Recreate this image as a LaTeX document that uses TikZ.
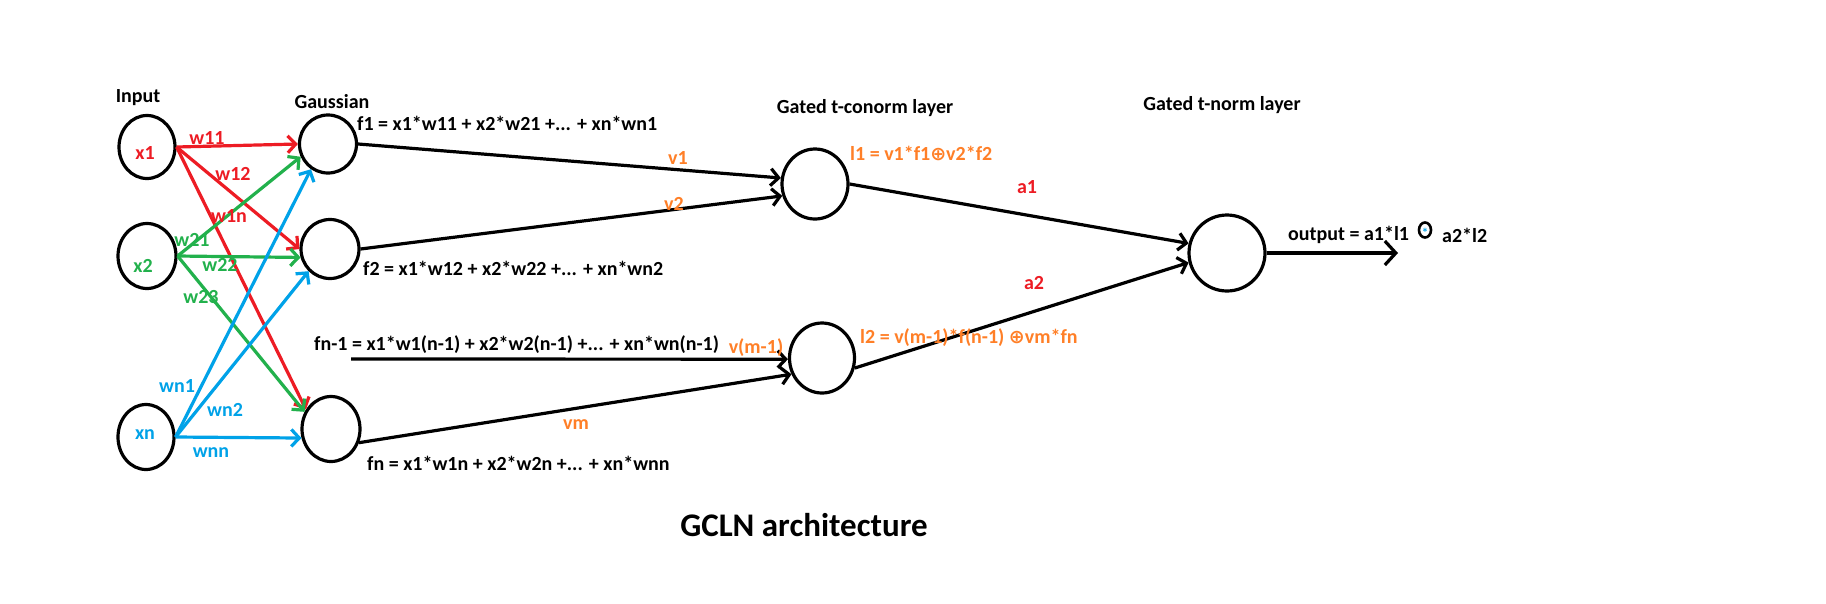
\documentclass[tikz,border=0pt]{standalone}
\usepackage{fontspec}
\setmainfont{Carlito}
\newfontfamily\dejavu{DejaVu Sans}
\usetikzlibrary{arrows.meta,shapes.geometric}
\definecolor{pred}{RGB}{237,28,36}
\definecolor{pgreen}{RGB}{34,177,76}
\definecolor{pblue}{RGB}{0,162,232}
\definecolor{porange}{RGB}{255,127,39}
\newcommand{\circplus}{{\dejavu\bfseries\fontsize{19}{19}\selectfont ⊕}}
\begin{document}
\begin{tikzpicture}[x=1pt,y=-1pt,
  neuron/.style={draw,ellipse,line width=3.2pt,inner sep=0pt},
  txt/.style={font=\fontsize{20}{24}\selectfont\bfseries,inner sep=0pt},
  wire/.style={line width=3.2pt,-{Straight Barb[length=8pt,width=17pt]}},
  plain/.style={line width=3.2pt}]
\useasboundingbox[fill=white] (0,0) rectangle (1826,603);
% input neurons
\node[neuron,minimum width=56pt,minimum height=63pt] (x1) at (147,147) {};
\node[neuron,minimum width=58pt,minimum height=65pt] (x2) at (147,256) {};
\node[neuron,minimum width=56pt,minimum height=65pt] (xn) at (146,437) {};
\node[txt,text=pred] (tx1) at (145,153) {x1};
\node[txt,text=pgreen] (tx2) at (143,266) {x2};
\node[txt,text=pblue] (txn) at (145,435) {xn};
% gaussian neurons
\node[neuron,minimum width=57pt,minimum height=58pt] (g1) at (328,144) {};
\node[neuron,minimum width=58pt,minimum height=59pt] (g2) at (330,249) {};
\node[neuron,minimum width=58pt,minimum height=65pt] (gn) at (331,429) {};
% conorm neurons
\node[neuron,minimum width=66pt,minimum height=70pt] (c1) at (815,184) {};
\node[neuron,minimum width=65pt,minimum height=70pt] (c2) at (822,358) {};
% norm neuron
\node[neuron,minimum width=76pt,minimum height=76pt] (t) at (1227,253) {};
% headers
\node[txt] (hin) at (138,98) {Input};
\node[txt] (hg) at (332,102) {Gaussian};
\node[txt] (hc) at (865,108) {Gated t-conorm layer};
\node[txt] (ht) at (1222,105) {Gated t-norm layer};
% red
\draw[wire,pred] (x1.east) -- (g1.west);
\draw[wire,pred] (x1.east) -- (g2.west);
\draw[wire,pred] (x1.east) -- (gn.142);
% green
\draw[wire,pgreen] (x2.east) -- (g1.205);
\draw[wire,pgreen] (x2.east) -- (g2.196);
\draw[wire,pgreen] (x2.east) -- (gn.147);
% blue
\draw[wire,pblue] (xn.east) -- (g1.236);
\draw[wire,pblue] (xn.east) -- (g2.226);
\draw[wire,pblue] (xn.east) -- (gn.197);
% weight labels
\node[txt,text=pred] (w11) at (207,138) {w11};
\node[txt,text=pred] (w12) at (233,174) {w12};
\node[txt,text=pred] (w1n) at (229,216) {w1n};
\node[txt,text=pgreen] (w21) at (192,240) {w21};
\node[txt,text=pgreen] (w22) at (220,265) {w22};
\node[txt,text=pgreen] (w23) at (201,297) {w23};
\node[txt,text=pblue] (wn1) at (177,386) {wn1};
\node[txt,text=pblue] (wn2) at (225,410) {wn2};
\node[txt,text=pblue] (wnn) at (211,453) {wnn};
% black connectors
\coordinate (fm1) at (351,359);
\draw[wire] (g1.east) -- (c1.170);
\draw[wire] (g2.east) -- (c1.200);
\draw[wire] (fm1) -- (c2.182);
\draw[wire] (gn.334) -- (c2.208);
\draw[wire] (c1.east) -- (t.166);
\draw[wire] (c2.-17) -- (t.194);
\coordinate (out) at (1398,253);
\draw[plain,-{Straight Barb[length=11pt,width=24pt]}] (t.east) -- (out);
% formulas
\node[txt,anchor=west] (f1) at (357,123) {f1 = x1*w11 + x2*w21 +... + xn*wn1};
\node[txt,anchor=west] (f2) at (363,268) {f2 = x1*w12 + x2*w22 +... + xn*wn2};
\node[txt,anchor=west] (fnm) at (314,345) {fn-1 = x1*w1(n-1) + x2*w2(n-1) +... + xn*wn(n-1)};
\node[txt,anchor=west] (fn) at (367,463) {fn = x1*w1n + x2*w2n +... + xn*wnn};
\node[txt,text=porange] (v1) at (678,158) {v1};
\node[txt,text=porange] (v2) at (674,204) {v2};
\node[txt,text=porange] (vm1) at (756,348) {v(m-1)};
\node[txt,text=porange] (vm) at (576,425) {vm};
\node[txt,text=pred] (a1) at (1027,187) {a1};
\node[txt,text=pred] (a2) at (1034,283) {a2};
\node[txt,text=porange,anchor=west] (l1) at (850,153) {l1 = v1*f1\circplus v2*f2};
\node[txt,text=porange,anchor=west] (l2) at (860,338) {l2 = v(m-1)*f(n-1) \circplus vm*fn};
\node[txt,anchor=west] (o1) at (1288,235) {output = a1*l1};
\node[draw,ellipse,line width=2.6pt,minimum width=12pt,minimum height=15pt,inner sep=0pt] (ot) at (1425,230) {};
\node[inner sep=0pt,text=pblue,font=\fontsize{13}{13}\selectfont\bfseries] (ast) at (1425,233) {*};
\node[txt,anchor=west] (o2) at (1442,235) {a2*l2};
% title
\node[font=\fontsize{33}{38}\selectfont\bfseries,inner sep=0pt] (title) at (804,525) {GCLN architecture};
\end{tikzpicture}
\end{document}
